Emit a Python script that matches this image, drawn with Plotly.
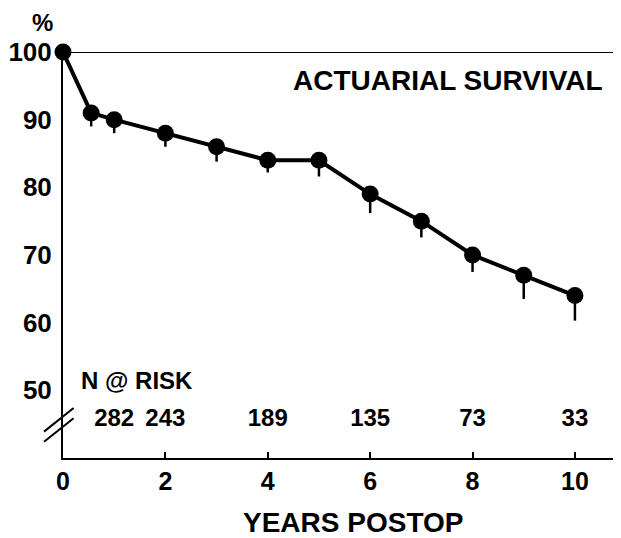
import plotly.graph_objects as go

years = [0, 0.55, 1, 2, 3, 4, 5, 6, 7, 8, 9, 10]
survival = [100, 91, 90, 88, 86, 84, 84, 79, 75, 70, 67, 64]
err_lower = [0, 2.0, 2.0, 2.0, 2.2, 1.8, 2.4, 2.8, 2.4, 2.5, 3.5, 3.7]

risk_years = [1, 2, 4, 6, 8, 10]
risk_n = [282, 243, 189, 135, 73, 33]

y_ticks = [50, 60, 70, 80, 90, 100]
x_ticks = [0, 2, 4, 6, 8, 10]

FONT = "Liberation Sans, Arial, Helvetica, sans-serif"

fig = go.Figure()
fig.add_trace(go.Scatter(
    x=years, y=survival, mode="lines+markers",
    line=dict(color="black", width=4),
    marker=dict(color="black", size=17),
    error_y=dict(type="data", symmetric=False, array=[0] * len(years),
                 arrayminus=err_lower, color="black", thickness=2.5, width=0),
    cliponaxis=False, showlegend=False, hoverinfo="x+y",
))

fig.add_trace(go.Scatter(
    x=risk_years, y=[45.6] * len(risk_years), mode="text",
    text=["<b>%d</b>" % n for n in risk_n], textfont=dict(family=FONT, size=24, color="black"),
    showlegend=False, hoverinfo="skip", cliponaxis=False,
))

fig.add_annotation(x=0.31, y=51.4, xref="x", yref="y", text="<b>N @ RISK</b>", showarrow=False,
                   xanchor="left", font=dict(family=FONT, size=24, color="black"))
fig.add_annotation(x=10.58, y=95.8, xref="x", yref="y", text="<b>ACTUARIAL SURVIVAL</b>", showarrow=False,
                   xanchor="right", font=dict(family=FONT, size=28, color="black"))
fig.add_annotation(x=-0.036, y=1.0727, xref="paper", yref="paper", text="<b>%</b>", showarrow=False,
                   xanchor="center", yanchor="middle", borderpad=0,
                   font=dict(family=FONT, size=24, color="black"))
fig.add_annotation(x=0.52, y=-0.158, xref="paper", yref="paper", text="<b>YEARS POSTOP</b>",
                   showarrow=False, yanchor="middle", font=dict(family=FONT, size=28, color="black"))

# top border line
fig.add_shape(type="line", xref="x", yref="y", x0=0, x1=10.78, y0=100, y1=100,
              line=dict(color="black", width=2))
# axis break marks (paper coords so they are not clipped by the plot area)
for y0, y1 in [(0.065, 0.123), (0.040, 0.098)]:
    fig.add_shape(type="line", xref="paper", yref="paper", x0=-0.034, x1=0.019,
                  y0=y0, y1=y1, line=dict(color="black", width=2))

# the page body adds an 8px offset, so the figure is sized and placed to compensate
fig.update_layout(
    width=613, height=530,
    margin=dict(l=53, r=0, t=44, b=80),
    paper_bgcolor="white", plot_bgcolor="white",
    font=dict(family=FONT, color="black"),
    xaxis=dict(range=[0, 10.9], tickvals=x_ticks, ticktext=["<b>%d</b>" % t for t in x_ticks],
               showgrid=False, zeroline=False, showline=True, linecolor="black", linewidth=2,
               ticks="inside", ticklen=6, tickwidth=2, tickcolor="black",
               tickfont=dict(family=FONT, size=25, color="black")),
    yaxis=dict(range=[40, 100], tickvals=y_ticks, ticktext=["<b>%d</b>" % t for t in y_ticks],
               showgrid=False, zeroline=False, showline=True, linecolor="black", linewidth=2,
               ticks="", tickfont=dict(family=FONT, size=26, color="black"),
               ticklabelstandoff=4),
)

fig.write_html("out.html")
